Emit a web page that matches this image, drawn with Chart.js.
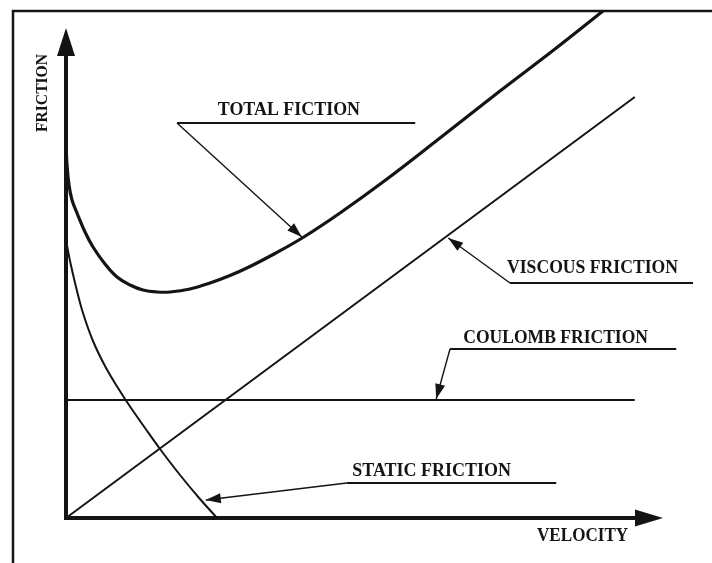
<!DOCTYPE html>
<html>
<head>
<meta charset="utf-8">
<title>Friction vs Velocity</title>
<script src="https://cdn.jsdelivr.net/npm/chart.js@4.4.1/dist/chart.umd.min.js"></script>
<style>
    html, body { margin: 0; padding: 0; background: #fff; }
    #frictionChart { display: block; }
</style>
</head>
<body>
<canvas id="frictionChart" width="712" height="563"></canvas>
<script>
// velocity and friction both on a 0-100 scale
const viscousX = [0, 94.8];
const viscousY = [0, 84.2];
const coulombX = [0, 94.8];
const coulombY = [23.6, 23.6];
const staticX = [0, 0.67, 1.67, 2.83, 4.5, 6.5, 8.67, 10.5, 13.17, 15.67, 19, 22.33, 25.17];
const staticY = [55.6, 51.4, 46.2, 41, 35.4, 30.4, 26, 22.6, 18, 13.8, 8.6, 3.8, 0];
const totalX = [0, 0.17, 0.5, 1, 1.83, 3.17, 4.5, 6.5, 8.5, 10.67, 12.83, 15.17, 17.33,
    20.67, 24, 27.33, 30.67, 34.83, 39.5, 45.67, 53.5, 62.33, 72.33, 81.5, 89.5];
const totalY = [74.6, 70.6, 66.6, 63.6, 61, 57.2, 54.2, 50.8, 48.2, 46.6, 45.6, 45.2, 45.2,
    45.8, 47, 48.5, 50.3, 52.9, 56.1, 61, 67.8, 76, 85.4, 93.8, 101.4];

const xAxisLabel = 'VELOCITY';
const yAxisLabel = 'FRICTION';
const curveLabels = ['TOTAL FICTION', 'VISCOUS FRICTION', 'COULOMB FRICTION', 'STATIC FRICTION'];

const INK = '#141414';
const FONT = '"Liberation Serif", "DejaVu Serif", serif';

// callouts in data units: text start, baseline, text width, underline span, arrow tip
const callouts = [
    { textX: 25.3, textY: 80.6, width: 23.7, lineY: 79, lineFrom: 18.5, lineTo: 58.2, tipX: 39.3, tipY: 56.2 },
    { textX: 73.5, textY: 49, width: 28.5, lineY: 47, lineFrom: 74, lineTo: 104.5, tipX: 63.7, tipY: 56 },
    { textX: 66.2, textY: 35, width: 30.8, lineY: 33.8, lineFrom: 64, lineTo: 101.7, tipX: 61.7, tipY: 23.8 }
];
callouts.push({ textX: 47.7, textY: 8.4, width: 30.8, lineY: 7, lineFrom: 46.8, lineTo: 81.7, tipX: 23.3, tipY: 3.6 });

function toPoints(xs, ys) {
    return xs.map((x, i) => ({ x: x, y: ys[i] }));
}

function arrowHead(ctx, fx, fy, tx, ty, len, half) {
    const ang = Math.atan2(ty - fy, tx - fx);
    ctx.beginPath();
    ctx.moveTo(tx, ty);
    ctx.lineTo(tx - len * Math.cos(ang) + half * Math.sin(ang), ty - len * Math.sin(ang) - half * Math.cos(ang));
    ctx.lineTo(tx - len * Math.cos(ang) - half * Math.sin(ang), ty - len * Math.sin(ang) + half * Math.cos(ang));
    ctx.closePath();
    ctx.fill();
}

const sketchPlugin = {
    id: 'sketch',
    afterDraw(chart) {
        const ctx = chart.ctx;
        const xs = chart.scales.x;
        const ys = chart.scales.y;
        const px = v => xs.getPixelForValue(v);
        const py = v => ys.getPixelForValue(v);
        const unitX = px(1) - px(0);
        const unitY = py(0) - py(1);

        ctx.save();
        ctx.strokeStyle = INK;
        ctx.fillStyle = INK;

        // frame (only top and left edges show)
        ctx.lineWidth = 2.5;
        ctx.beginPath();
        ctx.moveTo(13, chart.height);
        ctx.lineTo(13, 11);
        ctx.lineTo(chart.width, 11);
        ctx.stroke();

        // axes with arrows
        const ox = px(0), oy = py(0);
        ctx.lineWidth = 4;
        ctx.lineCap = 'square';
        ctx.beginPath();
        ctx.moveTo(ox, py(92));
        ctx.lineTo(ox, oy);
        ctx.lineTo(px(95), oy);
        ctx.stroke();
        arrowHead(ctx, ox, oy, ox, py(98), 28, 9);
        arrowHead(ctx, ox, oy, px(99.5), oy, 28, 8.5);

        // axis titles
        ctx.font = 'bold 18px ' + FONT;
        ctx.textAlign = 'left';
        ctx.textBaseline = 'alphabetic';
        ctx.fillText(xAxisLabel, px(78.5), py(-4.6), 15.2 * unitX);

        ctx.save();
        ctx.translate(px(-3.2), py(85));
        ctx.rotate(-Math.PI / 2);
        ctx.font = 'bold 16px ' + FONT;
        ctx.textAlign = 'center';
        ctx.fillText(yAxisLabel, 0, 0, 15.6 * unitY);
        ctx.restore();

        // callouts
        ctx.lineCap = 'butt';
        callouts.forEach((c, i) => {
            ctx.font = 'bold 18px ' + FONT;
            ctx.textAlign = 'left';
            ctx.fillText(curveLabels[i], px(c.textX), py(c.textY), c.width * unitX);

            ctx.lineWidth = 2;
            ctx.beginPath();
            ctx.moveTo(px(c.lineFrom), py(c.lineY));
            ctx.lineTo(px(c.lineTo), py(c.lineY));
            ctx.stroke();

            ctx.lineWidth = 1.4;
            ctx.beginPath();
            ctx.moveTo(px(c.lineFrom), py(c.lineY));
            ctx.lineTo(px(c.tipX), py(c.tipY));
            ctx.stroke();
            arrowHead(ctx, px(c.lineFrom), py(c.lineY), px(c.tipX), py(c.tipY), 15, 5);
        });

        ctx.restore();
    }
};

function lineSet(label, points, width) {
    return {
        label: label,
        data: points,
        showLine: true,
        borderColor: INK,
        borderWidth: width,
        pointRadius: 0,
        tension: 0.4,
        fill: false,
        clip: false
    };
}

new Chart(document.getElementById('frictionChart').getContext('2d'), {
    type: 'scatter',
    data: {
        datasets: [
            lineSet('Total', toPoints(totalX, totalY), 3.2),
            lineSet('Viscous', toPoints(viscousX, viscousY), 2),
            lineSet('Coulomb', toPoints(coulombX, coulombY), 2),
            lineSet('Static', toPoints(staticX, staticY), 2)
        ]
    },
    options: {
        responsive: false,
        animation: false,
        layout: {
            padding: { left: 66, right: 46, top: 18, bottom: 45 }
        },
        plugins: {
            legend: { display: false },
            tooltip: { enabled: false }
        },
        scales: {
            x: { type: 'linear', min: 0, max: 100, display: false },
            y: { type: 'linear', min: 0, max: 100, display: false }
        }
    },
    plugins: [sketchPlugin]
});
</script>
</body>
</html>
